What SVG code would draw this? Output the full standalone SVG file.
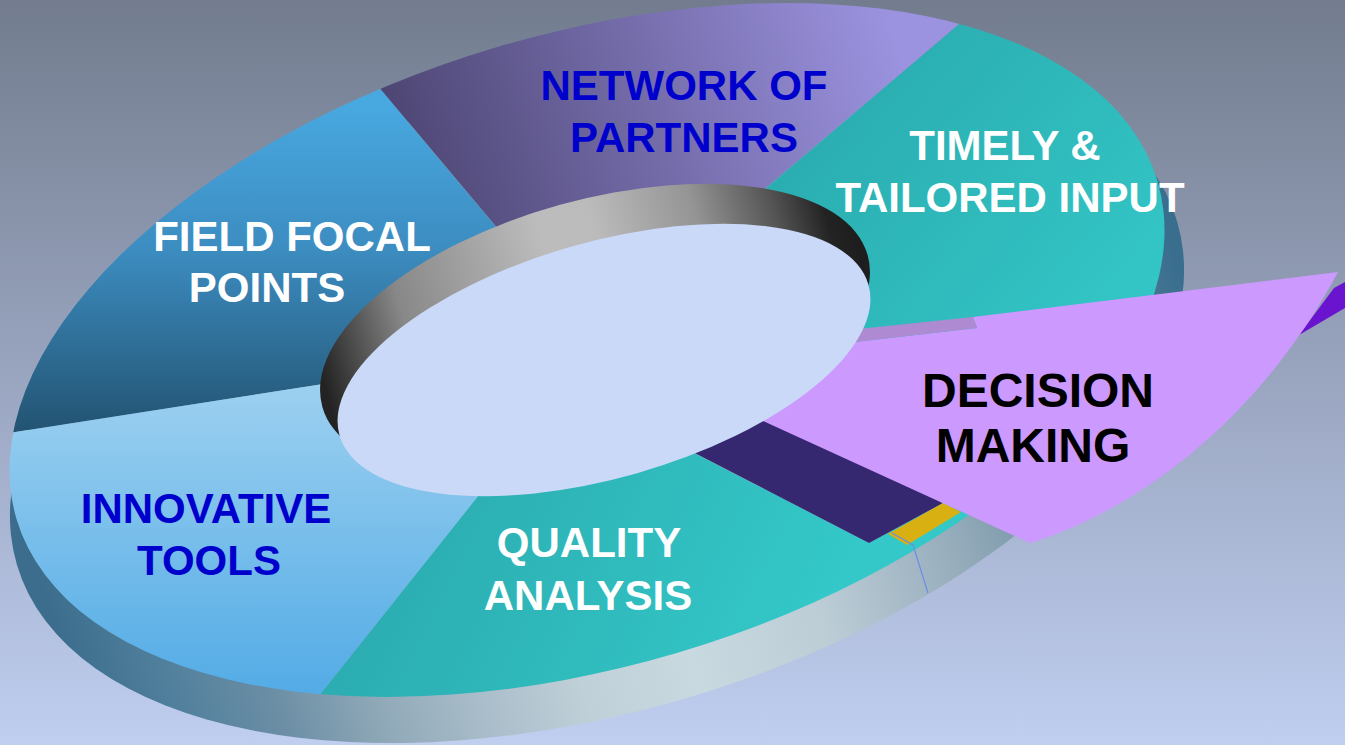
<svg xmlns="http://www.w3.org/2000/svg" width="1345" height="745" viewBox="0 0 1345 745">
  <style>
    .lbl { font-family: "Liberation Sans", Arial, sans-serif; font-weight: bold; font-size: 42px; text-anchor: middle; }
    .white { fill: #ffffff; }
    .blue { fill: #0000cc; }
    .dark { fill: #000000; font-size: 48px; }
  </style>
  <defs>
    <linearGradient id="bg" gradientUnits="userSpaceOnUse" x1="0" y1="0" x2="0" y2="745">
      <stop offset="0" stop-color="#727c8e"/>
      <stop offset="1" stop-color="#c0cef0"/>
    </linearGradient>
    <!-- outer wall of the ring: dark at both ends, pale in the middle -->
    <linearGradient id="side" gradientUnits="userSpaceOnUse" x1="10" y1="0" x2="1190" y2="0">
      <stop offset="0" stop-color="#3c6d8c"/>
      <stop offset="0.076" stop-color="#4f7f9c"/>
      <stop offset="0.161" stop-color="#6b8ea5"/>
      <stop offset="0.246" stop-color="#90a9b8"/>
      <stop offset="0.33" stop-color="#aabdca"/>
      <stop offset="0.415" stop-color="#bfd0d8"/>
      <stop offset="0.51" stop-color="#c9d9e0"/>
      <stop offset="0.627" stop-color="#bccdd6"/>
      <stop offset="0.737" stop-color="#9bb0bf"/>
      <stop offset="0.814" stop-color="#7c9aab"/>
      <stop offset="1" stop-color="#3a6e8e"/>
    </linearGradient>
    <linearGradient id="field" gradientUnits="userSpaceOnUse" x1="0" y1="100" x2="0" y2="435">
      <stop offset="0" stop-color="#48a9e1"/>
      <stop offset="0.45" stop-color="#3c8cc0"/>
      <stop offset="1" stop-color="#225270"/>
    </linearGradient>
    <linearGradient id="network" gradientUnits="userSpaceOnUse" x1="420" y1="200" x2="900" y2="50">
      <stop offset="0" stop-color="#4e4775"/>
      <stop offset="1" stop-color="#9c93e0"/>
    </linearGradient>
    <linearGradient id="timely" gradientUnits="userSpaceOnUse" x1="850" y1="60" x2="1150" y2="320">
      <stop offset="0" stop-color="#2aacb0"/>
      <stop offset="1" stop-color="#34c7c7"/>
    </linearGradient>
    <linearGradient id="quality" gradientUnits="userSpaceOnUse" x1="420" y1="470" x2="800" y2="660">
      <stop offset="0" stop-color="#2bacb0"/>
      <stop offset="1" stop-color="#34c8c8"/>
    </linearGradient>
    <linearGradient id="innov" gradientUnits="userSpaceOnUse" x1="0" y1="385" x2="0" y2="690">
      <stop offset="0" stop-color="#9cd0f0"/>
      <stop offset="1" stop-color="#54ace6"/>
    </linearGradient>
    <!-- inner wall of the hole -->
    <linearGradient id="rim" gradientUnits="userSpaceOnUse" x1="320" y1="0" x2="870" y2="0">
      <stop offset="0" stop-color="#232323"/>
      <stop offset="0.17" stop-color="#888888"/>
      <stop offset="0.45" stop-color="#bcbcbc"/>
      <stop offset="0.55" stop-color="#bbbbbb"/>
      <stop offset="0.73" stop-color="#959595"/>
      <stop offset="0.87" stop-color="#555555"/>
      <stop offset="0.96" stop-color="#232323"/>
      <stop offset="1" stop-color="#1e1e1e"/>
    </linearGradient>
    <clipPath id="face">
      <ellipse cx="587" cy="350" rx="595" ry="316" transform="rotate(-16.5 587 350)"/>
    </clipPath>
  </defs>

  <!-- backdrop -->
  <rect x="0" y="0" width="1345" height="745" fill="url(#bg)"/>

  <!-- outer wall of the ring -->
  <ellipse id="ring-side" cx="597" cy="393" rx="605" ry="318" transform="rotate(-16.5 597 393)" fill="url(#side)"/>

  <!-- top face segments -->
  <g clip-path="url(#face)">
    <g id="field-focal-points">
      <polygon points="540,279 284,-26 -100,-30 -100,450 420,369" fill="url(#field)"/>
    </g>
    <g id="network-of-partners">
      <polygon points="540,279 284,-26 1043,-47 700,244" fill="url(#network)"/>
    </g>
    <g id="timely-tailored-input">
      <polygon points="700,244 1043,-47 1400,-47 1400,300 840,345 700,330" fill="url(#timely)"/>
    </g>
    <g id="innovative-tools">
      <polygon points="420,369 -100,450 -100,779 253,779 522,441" fill="url(#innov)"/>
    </g>
    <g id="quality-analysis">
      <polygon points="522,441 253,779 1200,779 1200,400 943,503 869,543 640,425" fill="url(#quality)"/>
    </g>
    <!-- gap left behind by the lifted segment -->
    <polygon points="650,430 869,543 943,503 760,400" fill="#352870"/>
    <polygon points="888,534 943,503 961,512 907,545" fill="#d8b012"/>
  </g>

  <!-- lifted segment -->
  <g id="decision-making">
    <polygon points="1299,335 1334,288 1345,282 1345,308" fill="#6a14d0"/>
    <path d="M1338,272 L973,317 L977,328 L820,346 L702,393 L1030,543 C1145,508 1265,410 1338,272 Z" fill="#cc99ff"/>
    <polygon points="973,317 977,328 820,346 820,333" fill="#ad8ad2"/>
  </g>

  <!-- hole in the middle -->
  <g id="hole">
    <ellipse cx="595" cy="331" rx="283" ry="131" transform="rotate(-15.5 595 331)" fill="url(#rim)"/>
    <ellipse cx="604" cy="360" rx="275" ry="118" transform="rotate(-15.9 604 360)" fill="#c9d9f7"/>
  </g>

  <g id="connectors">
    <polyline points="892,533 913,545 928,593" fill="none" stroke="#6a8ee8" stroke-width="1.2"/>
  </g>

  <!-- labels -->
  <g id="labels">
    <text class="lbl blue" x="684" y="100">NETWORK OF</text>
    <text class="lbl blue" x="684" y="152">PARTNERS</text>
    <text class="lbl white" x="1005" y="160">TIMELY &amp;</text>
    <text class="lbl white" x="1010" y="212">TAILORED INPUT</text>
    <text class="lbl white" x="292" y="251">FIELD FOCAL</text>
    <text class="lbl white" x="267" y="302">POINTS</text>
    <text class="lbl blue" x="206" y="523">INNOVATIVE</text>
    <text class="lbl blue" x="209" y="575">TOOLS</text>
    <text class="lbl white" x="589" y="557">QUALITY</text>
    <text class="lbl white" x="588" y="610">ANALYSIS</text>
    <text class="lbl dark" x="1038" y="407">DECISION</text>
    <text class="lbl dark" x="1033" y="462">MAKING</text>
  </g>
</svg>
